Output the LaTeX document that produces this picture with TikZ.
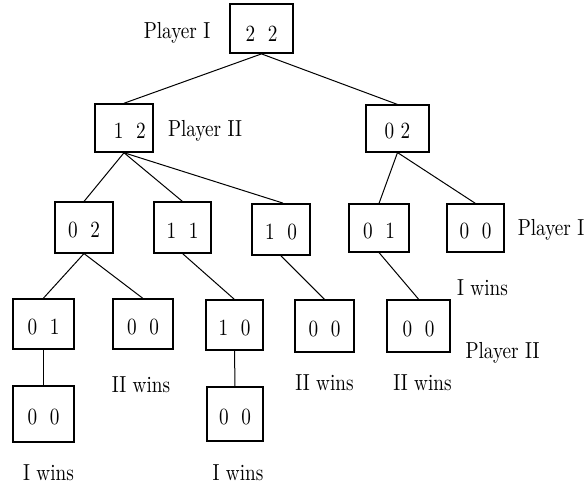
\documentclass[tikz,border=0pt]{standalone}
\usepackage{fontspec}
\usepackage{graphicx}
% 10pt design size, enlarged; text is set slightly taller than wide
\newcommand{\tallt}[1]{\scalebox{1.92}[2.32]{#1}}
\tikzset{
  every node/.style={font=\fontsize{10}{12}\selectfont},
  sz/.style args={#1x#2}{minimum width=#1pt, minimum height=#2pt},
  box/.style={draw, line width=1.1pt, inner sep=0pt},
  heavy/.style={line width=1.8pt},
  valtext/.style={inner sep=0pt, yshift=-3pt},
  val/.style={label={[valtext]center:\tallt{#1}}},
  txt/.style={anchor=base, inner sep=0pt},
  link/.style={line width=1pt},
}
\begin{document}
\begin{tikzpicture}[x=1pt, y=-1pt]
\useasboundingbox (0,0) rectangle (585,486);

% game positions
\node[box, heavy, sz=63x49, label={[valtext, yshift=-2pt]center:\tallt{2\ \ 2}}] (root) at (261.5,28.5) {};
\node[box, line width=1.5pt, sz=58x48, val={\hspace*{6pt}1\ \ 2}] (n12) at (124,128) {};
\node[box, sz=63x47, val={0 2}] (n02r) at (397.5,128.5) {};

\node[box, sz=58x51, val={0\ \ 2}] (n02) at (84,227.5) {};
\node[box, sz=57x51, val={1\ \ 1}] (n11) at (182.5,227.5) {};
\node[box, heavy, sz=58x51, val={1\ \ 0}] (n10) at (281,229.5) {};
\node[box, sz=60x48, val={0\ \ 1}] (n01r) at (379,228) {};
\node[box, sz=57x48, val={0\ \ 0}] (n00r) at (475.5,228) {};

\node[box, heavy, sz=61x50, val={0\ \ 1}] (n01) at (43.5,324) {};
\node[box, sz=60x50, val={0\ \ 0}] (n00a) at (143,324) {};
\node[box, sz=57x50, val={1\ \ 0}] (n10b) at (234.5,325) {};
\node[box, sz=59x52, val={0\ \ 0}] (n00b) at (324.5,326) {};
\node[box, heavy, sz=63x52, val={0\ \ 0}] (n00c) at (418.5,326) {};

\node[box, sz=61x56, val={0\ \ 0}] (n00d) at (43.5,414) {};
\node[box, sz=56x54, val={0\ \ 0}] (n00e) at (235,414) {};

% moves
\draw[link] (root.south) -- (n12.north);
\draw[link] (root.south) -- (n02r.north);
\draw[link] (n12.south) -- (n02.north);
\draw[link] (n12.south) -- (n11.north);
\draw[link] (n12.south) -- ([xshift=2pt]n10.north);
\draw[link] (n02r.south) -- (n01r.north);
\draw[link] (n02r.south) -- (n00r.north);
\draw[link] (n02.south) -- (n01.north);
\draw[link] (n02.south) -- (n00a.north);
\draw[link] (n11.south) -- (n10b.north);
\draw[link] (n10.south) -- (n00b.north);
\draw[link] (n01r.south) -- (n00c.north);
\draw[link] (n01.south) -- (n00d.north);
\draw[link] (n10b.south) -- (n00e.north);

% player to move and outcomes
\node[txt] (p1a) at (177,39) {\tallt{Player I}};
\node[txt] (p2a) at (205,137) {\tallt{Player II}};
\node[txt] (p1b) at (551,235) {\tallt{Player I}};
\node[txt] (w1a) at (482.5,295) {\tallt{I wins}};
\node[txt] (p2b) at (502.5,358) {\tallt{Player II}};
\node[txt] (w2a) at (141,392) {\tallt{II wins}};
\node[txt] (w2b) at (324.5,390) {\tallt{II wins}};
\node[txt] (w2c) at (422.5,390) {\tallt{II wins}};
\node[txt] (w1b) at (48.5,480) {\tallt{I wins}};
\node[txt] (w1c) at (238,480) {\tallt{I wins}};
\end{tikzpicture}
\end{document}
